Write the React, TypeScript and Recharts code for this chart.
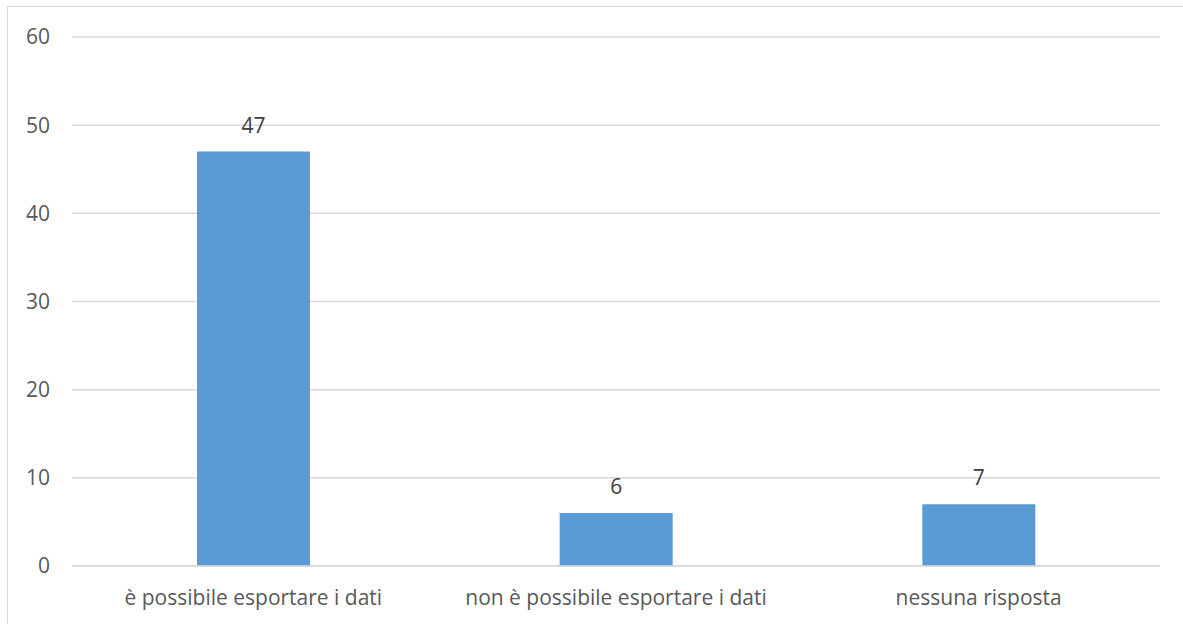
import React from "react";
import { BarChart, Bar, XAxis, YAxis, CartesianGrid, LabelList } from "recharts";

const categories = ["è possibile esportare i dati", "non è possibile esportare i dati", "nessuna risposta"];
const values = [47, 6, 7];
const yTicks = [0, 10, 20, 30, 40, 50, 60];

const data = categories.map((name, i) => ({ name, value: values[i] }));

const FONT = "'Open Sans', 'Noto Sans', sans-serif";
const TEXT = "#595959";

export default function App() {
  return (
    <div style={{ position: "absolute", left: 0, top: 0, width: 1183, height: 624, overflow: "hidden", background: "#fff" }}>
      <div
        style={{
          position: "absolute",
          left: 7,
          top: 6,
          width: 1250,
          height: 700,
          border: "1.5px solid #d9d9d9",
          boxSizing: "border-box",
        }}
      />
      <div style={{ position: "absolute", left: 0, top: 0 }}>
        <BarChart
          width={1183}
          height={624}
          data={data}
          margin={{ top: 37, right: 23, left: 0, bottom: 28 }}
          barSize={113}
        >
          <CartesianGrid vertical={false} stroke="#d9d9d9" strokeWidth={1.5} />
          <XAxis
            dataKey="name"
            height={30}
            axisLine={{ stroke: "#d9d9d9", strokeWidth: 1.5 }}
            tickLine={false}
            tickMargin={18}
            tick={{ fill: TEXT, fontSize: 21, fontFamily: FONT }}
            interval={0}
          />
          <YAxis
            width={72}
            domain={[0, 60]}
            ticks={yTicks}
            axisLine={false}
            tickLine={false}
            tickMargin={16}
            tick={{ fill: TEXT, fontSize: 21, fontFamily: FONT }}
          />
          <Bar dataKey="value" fill="#5b9bd5" isAnimationActive={false}>
            <LabelList
              dataKey="value"
              position="top"
              offset={19}
              style={{ fill: "#404040", fontSize: 21, fontFamily: FONT }}
            />
          </Bar>
        </BarChart>
      </div>
    </div>
  );
}
